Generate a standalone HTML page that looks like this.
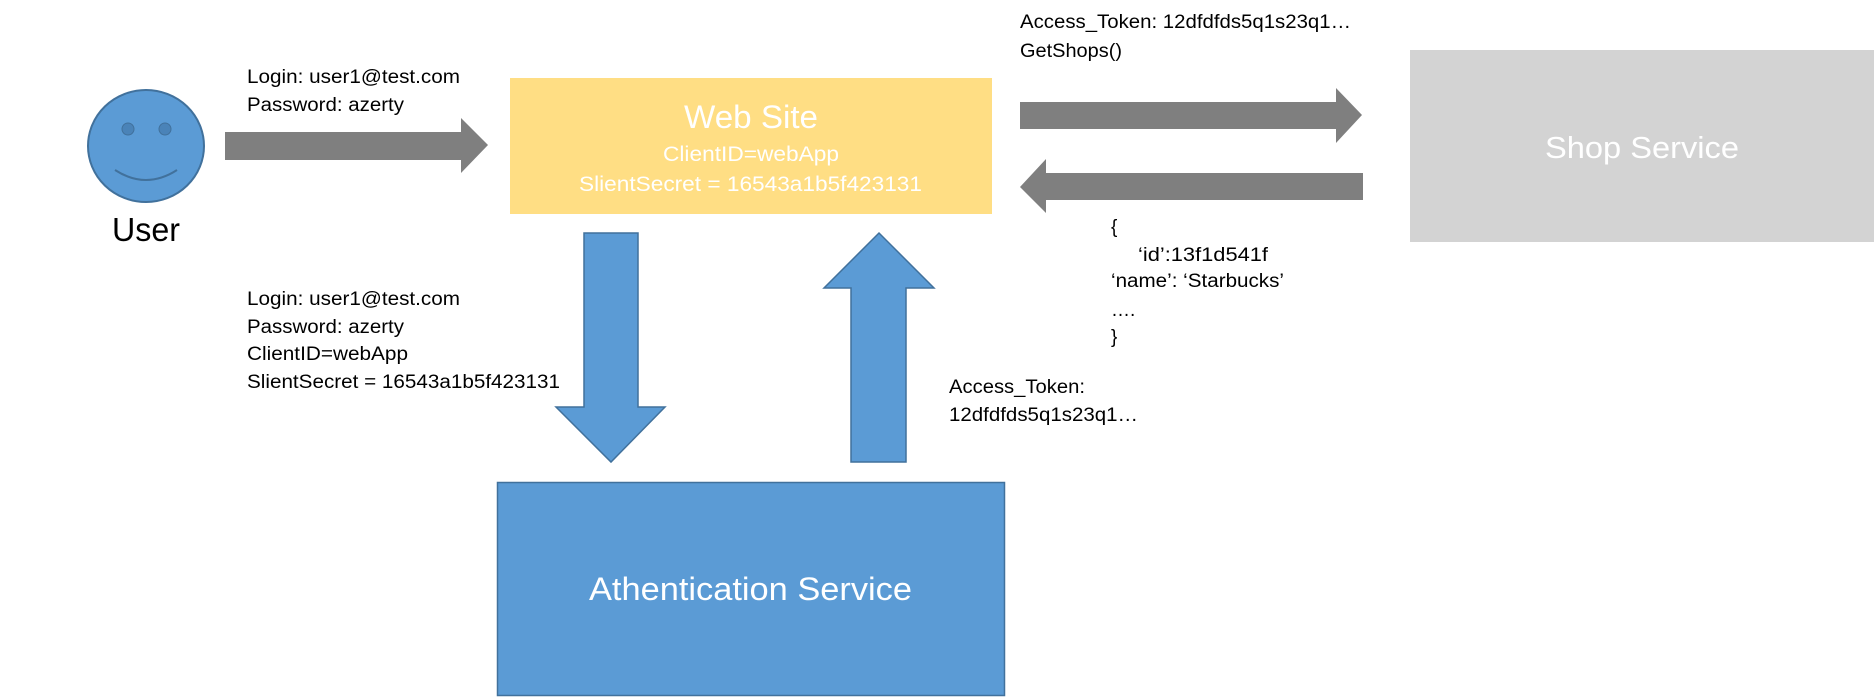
<!DOCTYPE html>
<html><head><meta charset="utf-8"><style>
html,body{margin:0;padding:0;background:#fff;}
svg{display:block;}
text{font-family:"Liberation Sans",sans-serif;}
</style></head><body>
<svg width="1874" height="697" viewBox="0 0 1874 697" xmlns="http://www.w3.org/2000/svg">
<rect width="1874" height="697" fill="#fff"/>
<!-- User smiley -->
<ellipse cx="146" cy="146" rx="58" ry="56" fill="#5b9bd5" stroke="#41719c" stroke-width="2"/>
<ellipse cx="128" cy="129" rx="6" ry="6" fill="#4a83b8" stroke="#41719c"/>
<ellipse cx="165" cy="129" rx="6" ry="6" fill="#4a83b8" stroke="#41719c"/>
<path d="M115 170 Q146 190 177 170" fill="none" stroke="#41719c" stroke-width="2"/>
<text x="112" y="241" font-size="33" fill="#000" textLength="68" lengthAdjust="spacingAndGlyphs">User</text>
<!-- text labels -->
<g font-size="19" fill="#000">
<text x="247" y="83" textLength="213" lengthAdjust="spacingAndGlyphs">Login: user1@test.com</text>
<text x="247" y="111" textLength="157" lengthAdjust="spacingAndGlyphs">Password: azerty</text>
<text x="247" y="305" textLength="213" lengthAdjust="spacingAndGlyphs">Login: user1@test.com</text>
<text x="247" y="333" textLength="157" lengthAdjust="spacingAndGlyphs">Password: azerty</text>
<text x="247" y="360" textLength="161" lengthAdjust="spacingAndGlyphs">ClientID=webApp</text>
<text x="247" y="388" textLength="313" lengthAdjust="spacingAndGlyphs">SlientSecret = 16543a1b5f423131</text>
<text x="949" y="393" textLength="136" lengthAdjust="spacingAndGlyphs">Access_Token:</text>
<text x="949" y="421" textLength="189" lengthAdjust="spacingAndGlyphs">12dfdfds5q1s23q1…</text>
<text x="1020" y="28" textLength="331" lengthAdjust="spacingAndGlyphs">Access_Token: 12dfdfds5q1s23q1…</text>
<text x="1020" y="57" textLength="102" lengthAdjust="spacingAndGlyphs">GetShops()</text>
<text x="1111" y="233">{</text>
<text x="1138" y="261" textLength="130" lengthAdjust="spacingAndGlyphs">‘id’:13f1d541f</text>
<text x="1111" y="287" textLength="173" lengthAdjust="spacingAndGlyphs">‘name’: ‘Starbucks’</text>
<text x="1111" y="316">….</text>
<text x="1111" y="343">}</text>
</g>
<!-- gray arrows -->
<polygon points="225,132 461,132 461,118 488,145 461,173 461,160 225,160" fill="#7f7f7f"/>
<polygon points="1020,102 1336,102 1336,88 1362,115 1336,143 1336,129 1020,129" fill="#7f7f7f"/>
<polygon points="1363,173 1046,173 1046,159 1020,187 1046,213 1046,200 1363,200" fill="#7f7f7f"/>
<!-- Web Site box -->
<rect x="510" y="78" width="482" height="136" fill="#ffde84"/>
<text x="684" y="128" font-size="32" fill="#fff" textLength="134" lengthAdjust="spacingAndGlyphs">Web Site</text>
<text x="663" y="161" font-size="21" fill="#fff" textLength="176" lengthAdjust="spacingAndGlyphs">ClientID=webApp</text>
<text x="579" y="191" font-size="21" fill="#fff" textLength="343" lengthAdjust="spacingAndGlyphs">SlientSecret = 16543a1b5f423131</text>
<!-- Shop box -->
<rect x="1410" y="50" width="464" height="192" fill="#d3d3d3"/>
<text x="1545" y="158" font-size="31" fill="#fff" textLength="194" lengthAdjust="spacingAndGlyphs">Shop Service</text>
<!-- blue arrows -->
<polygon points="584,233 638,233 638,407 665,407 611,462 556,407 584,407" fill="#5b9bd5" stroke="#41719c" stroke-width="1.5"/>
<polygon points="879,233 934,288 906,288 906,462 851,462 851,288 824,288" fill="#5b9bd5" stroke="#41719c" stroke-width="1.5"/>
<!-- Auth box -->
<rect x="497.5" y="482.5" width="507" height="213" fill="#5b9bd5" stroke="#41719c" stroke-width="1.5"/>
<text x="589" y="600" font-size="32" fill="#fff" textLength="323" lengthAdjust="spacingAndGlyphs">Athentication Service</text>
</svg>
</body></html>
